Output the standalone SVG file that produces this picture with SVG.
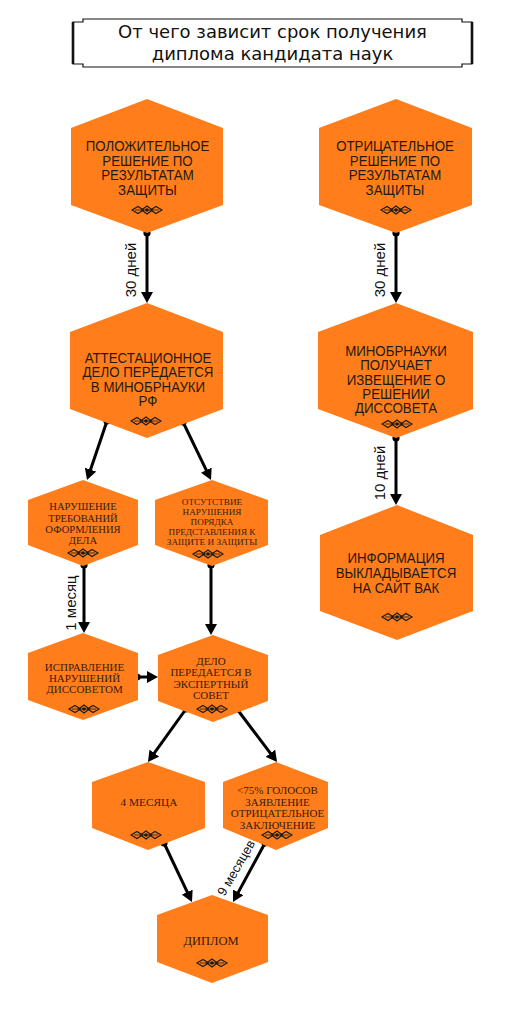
<svg xmlns="http://www.w3.org/2000/svg" width="531" height="1024" viewBox="0 0 531 1024">
<style>
.hex{fill:#ff7e1b;stroke:none}
.sans{font-family:"Liberation Sans",Arial,sans-serif;font-size:14px;fill:#231a14;text-anchor:middle}
.serif{font-family:"Liberation Serif","Times New Roman",serif;fill:#3a1a0c;text-anchor:middle}
.lbl{font-family:"Liberation Sans",Arial,sans-serif;font-size:15px;fill:#111;text-anchor:middle}
.title{font-family:"DejaVu Sans",Verdana,sans-serif;font-size:18px;fill:#111;text-anchor:middle}
.con{stroke:#000;stroke-width:3;fill:none;marker-end:url(#ah);marker-start:url(#dot)}
</style>
<defs>
<marker id="ah" viewBox="0 0 11 12" refX="2" refY="6" markerWidth="11" markerHeight="12" markerUnits="userSpaceOnUse" orient="auto">
<path d="M0,0 L11,6 L0,12 Z" fill="#000"/>
</marker>
<marker id="dot" viewBox="0 0 8 8" refX="4" refY="4" markerWidth="8" markerHeight="8" markerUnits="userSpaceOnUse">
<circle cx="4" cy="4" r="3.6" fill="#000"/>
</marker>
<g id="orn">
<path d="M-15,0 L-9,-3.5 L-3.5,0 L-9,3.5 Z M15,0 L9,-3.5 L3.5,0 L9,3.5 Z" fill="none" stroke="#1a1a1a" stroke-width="1.1"/>
<path d="M-5.5,0 L0,-4 L5.5,0 L0,4 Z" fill="none" stroke="#1a1a1a" stroke-width="1.1"/>
<path d="M-12,0 H12" stroke="#1a1a1a" stroke-width="0.8"/>
<circle r="1.8" fill="#1a1a1a"/>
</g>
</defs>

<g id="title">
<path d="M83,19 H462 V22 H472 V64 H462 V67 H83 V64 H73 V22 H83 Z" fill="#fff" stroke="#111" stroke-width="1.2"/>
<path d="M73,22 V64 M472,22 V64" stroke="#111" stroke-width="2.6"/>
<text class="title" x="272.5" y="38">От чего зависит срок получения</text>
<text class="title" x="272.5" y="60">диплома кандидата наук</text>
</g>

<g id="connectors">
<path class="con" d="M147,233 V294"/>
<path class="con" d="M396,233 V294"/>
<path class="con" d="M396,438 V496"/>
<path class="con" d="M107,421 L89.9,471.5"/>
<path class="con" d="M183,422 L207.1,471.9"/>
<path class="con" d="M84,565 V624"/>
<path class="con" d="M211,565 V626"/>
<path class="con" d="M137,677 H149"/>
<path class="con" d="M186,709 L153.2,754.7"/>
<path class="con" d="M237,709 L271.6,754.8"/>
<path class="con" d="M164,843 L188.1,893.9"/>
<path class="con" d="M265,843 L237.3,894.1"/>
<text class="lbl" transform="translate(136,270) rotate(-90)">30 дней</text>
<text class="lbl" transform="translate(385,270) rotate(-90)">30 дней</text>
<text class="lbl" transform="translate(385,473) rotate(-90)">10 дней</text>
<text class="lbl" transform="translate(76,603) rotate(-90)">1 месяц</text>
<text class="lbl" style="font-size:13px" transform="translate(240,870) rotate(-60)">9 месяцев</text>
</g>

<g id="n1">
<polygon class="hex" points="147,99 223,128 223,205 147,233 71,205 71,128"/>
<g transform="translate(147.5,0) scale(0.95,1)">
<text class="sans" x="0" y="151.5">ПОЛОЖИТЕЛЬНОЕ</text>
<text class="sans" x="0" y="166">РЕШЕНИЕ ПО</text>
<text class="sans" x="0" y="180.5">РЕЗУЛЬТАТАМ</text>
<text class="sans" x="0" y="195">ЗАЩИТЫ</text>
</g>
<use href="#orn" x="147" y="210"/>
</g>

<g id="n2">
<polygon class="hex" points="396,99 472,128 472,205 396,233 319,205 319,128"/>
<g transform="translate(395,0) scale(0.95,1)">
<text class="sans" x="0" y="151.5">ОТРИЦАТЕЛЬНОЕ</text>
<text class="sans" x="0" y="166">РЕШЕНИЕ ПО</text>
<text class="sans" x="0" y="180.5">РЕЗУЛЬТАТАМ</text>
<text class="sans" x="0" y="195">ЗАЩИТЫ</text>
</g>
<use href="#orn" x="396" y="210"/>
</g>

<g id="n3">
<polygon class="hex" points="147,303 223,332 223,409 147,438 70,409 70,332"/>
<g transform="translate(148,0) scale(0.95,1)">
<text class="sans" x="0" y="363">АТТЕСТАЦИОННОЕ</text>
<text class="sans" x="0" y="377.5">ДЕЛО ПЕРЕДАЕТСЯ</text>
<text class="sans" x="0" y="392">В МИНОБРНАУКИ</text>
<text class="sans" x="0" y="406.5">РФ</text>
</g>
<use href="#orn" x="146" y="421"/>
</g>

<g id="n4">
<polygon class="hex" points="396,303 473,332 473,409 396,438 318,409 318,332"/>
<g transform="translate(396,0) scale(0.95,1)">
<text class="sans" x="0" y="356">МИНОБРНАУКИ</text>
<text class="sans" x="0" y="370.5">ПОЛУЧАЕТ</text>
<text class="sans" x="0" y="385">ИЗВЕЩЕНИЕ О</text>
<text class="sans" x="0" y="399">РЕШЕНИИ</text>
<text class="sans" x="0" y="413.5">ДИССОВЕТА</text>
</g>
<use href="#orn" x="397" y="424"/>
</g>

<g id="n5">
<polygon class="hex" points="397,505 473,535 473,611 397,640 320,611 320,535"/>
<g transform="translate(396,0) scale(0.95,1)">
<text class="sans" x="0" y="563.5">ИНФОРМАЦИЯ</text>
<text class="sans" x="0" y="578.5">ВЫКЛАДЫВАЕТСЯ</text>
<text class="sans" x="0" y="593.5">НА САЙТ ВАК</text>
</g>
<use href="#orn" x="397" y="617"/>
</g>

<g id="n6">
<polygon class="hex" points="83,480 138,500 138,545 83,566 28,545 28,500"/>
<g class="serif" style="font-size:10.6px">
<text x="83" y="510">НАРУШЕНИЕ</text>
<text x="83" y="521.5">ТРЕБОВАНИЙ</text>
<text x="83" y="532.8">ОФОРМЛЕНИЯ</text>
<text x="83" y="544">ДЕЛА</text>
</g>
<use href="#orn" x="83" y="553"/>
</g>

<g id="n7">
<polygon class="hex" points="212,480 268,500 268,545 212,566 155,545 155,500"/>
<g class="serif" style="font-size:9.2px">
<text x="212" y="505">ОТСУТСТВИЕ</text>
<text x="212" y="515">НАРУШЕНИЯ</text>
<text x="212" y="525">ПОРЯДКА</text>
<text x="212" y="535">ПРЕДСТАВЛЕНИЯ К</text>
<text x="212" y="545">ЗАЩИТЕ И ЗАЩИТЫ</text>
</g>
<use href="#orn" x="208" y="554"/>
</g>

<g id="n8">
<polygon class="hex" points="83,633 138,653 138,700 83,720 28,700 28,653"/>
<g class="serif" style="font-size:11px">
<text x="84.5" y="670.7">ИСПРАВЛЕНИЕ</text>
<text x="84.5" y="681.7">НАРУШЕНИЙ</text>
<text x="84.5" y="692.7">ДИССОВЕТОМ</text>
</g>
<use href="#orn" x="84" y="709"/>
</g>

<g id="n9">
<polygon class="hex" points="213,635 268,655 268,701 213,722 158,701 158,655"/>
<g class="serif" style="font-size:11px">
<text x="211" y="665">ДЕЛО</text>
<text x="211" y="676">ПЕРЕДАЕТСЯ В</text>
<text x="211" y="687.5">ЭКСПЕРТНЫЙ</text>
<text x="211" y="699">СОВЕТ</text>
</g>
<use href="#orn" x="212" y="709"/>
</g>

<g id="n10">
<polygon class="hex" points="148,762 205,782 205,828 148,850 92,828 92,782"/>
<text class="serif" style="font-size:11.3px" x="149" y="806">4 МЕСЯЦА</text>
<use href="#orn" x="146" y="835"/>
</g>

<g id="n11">
<polygon class="hex" points="276,762 328,782 328,828 276,850 223,828 223,782"/>
<g class="serif" style="font-size:11px">
<text x="277.5" y="794">&lt;75% ГОЛОСОВ</text>
<text x="277.5" y="805.5">ЗАЯВЛЕНИЕ</text>
<text x="277.5" y="817">ОТРИЦАТЕЛЬНОЕ</text>
<text x="277.5" y="829">ЗАКЛЮЧЕНИЕ</text>
</g>
<use href="#orn" x="277" y="835"/>
</g>

<g id="n12">
<polygon class="hex" points="212,895 268,915 268,962 212,983 157,962 157,915"/>
<text class="serif" style="font-size:12.5px" x="211" y="945">ДИПЛОМ</text>
<use href="#orn" x="212" y="963"/>
</g>
</svg>
